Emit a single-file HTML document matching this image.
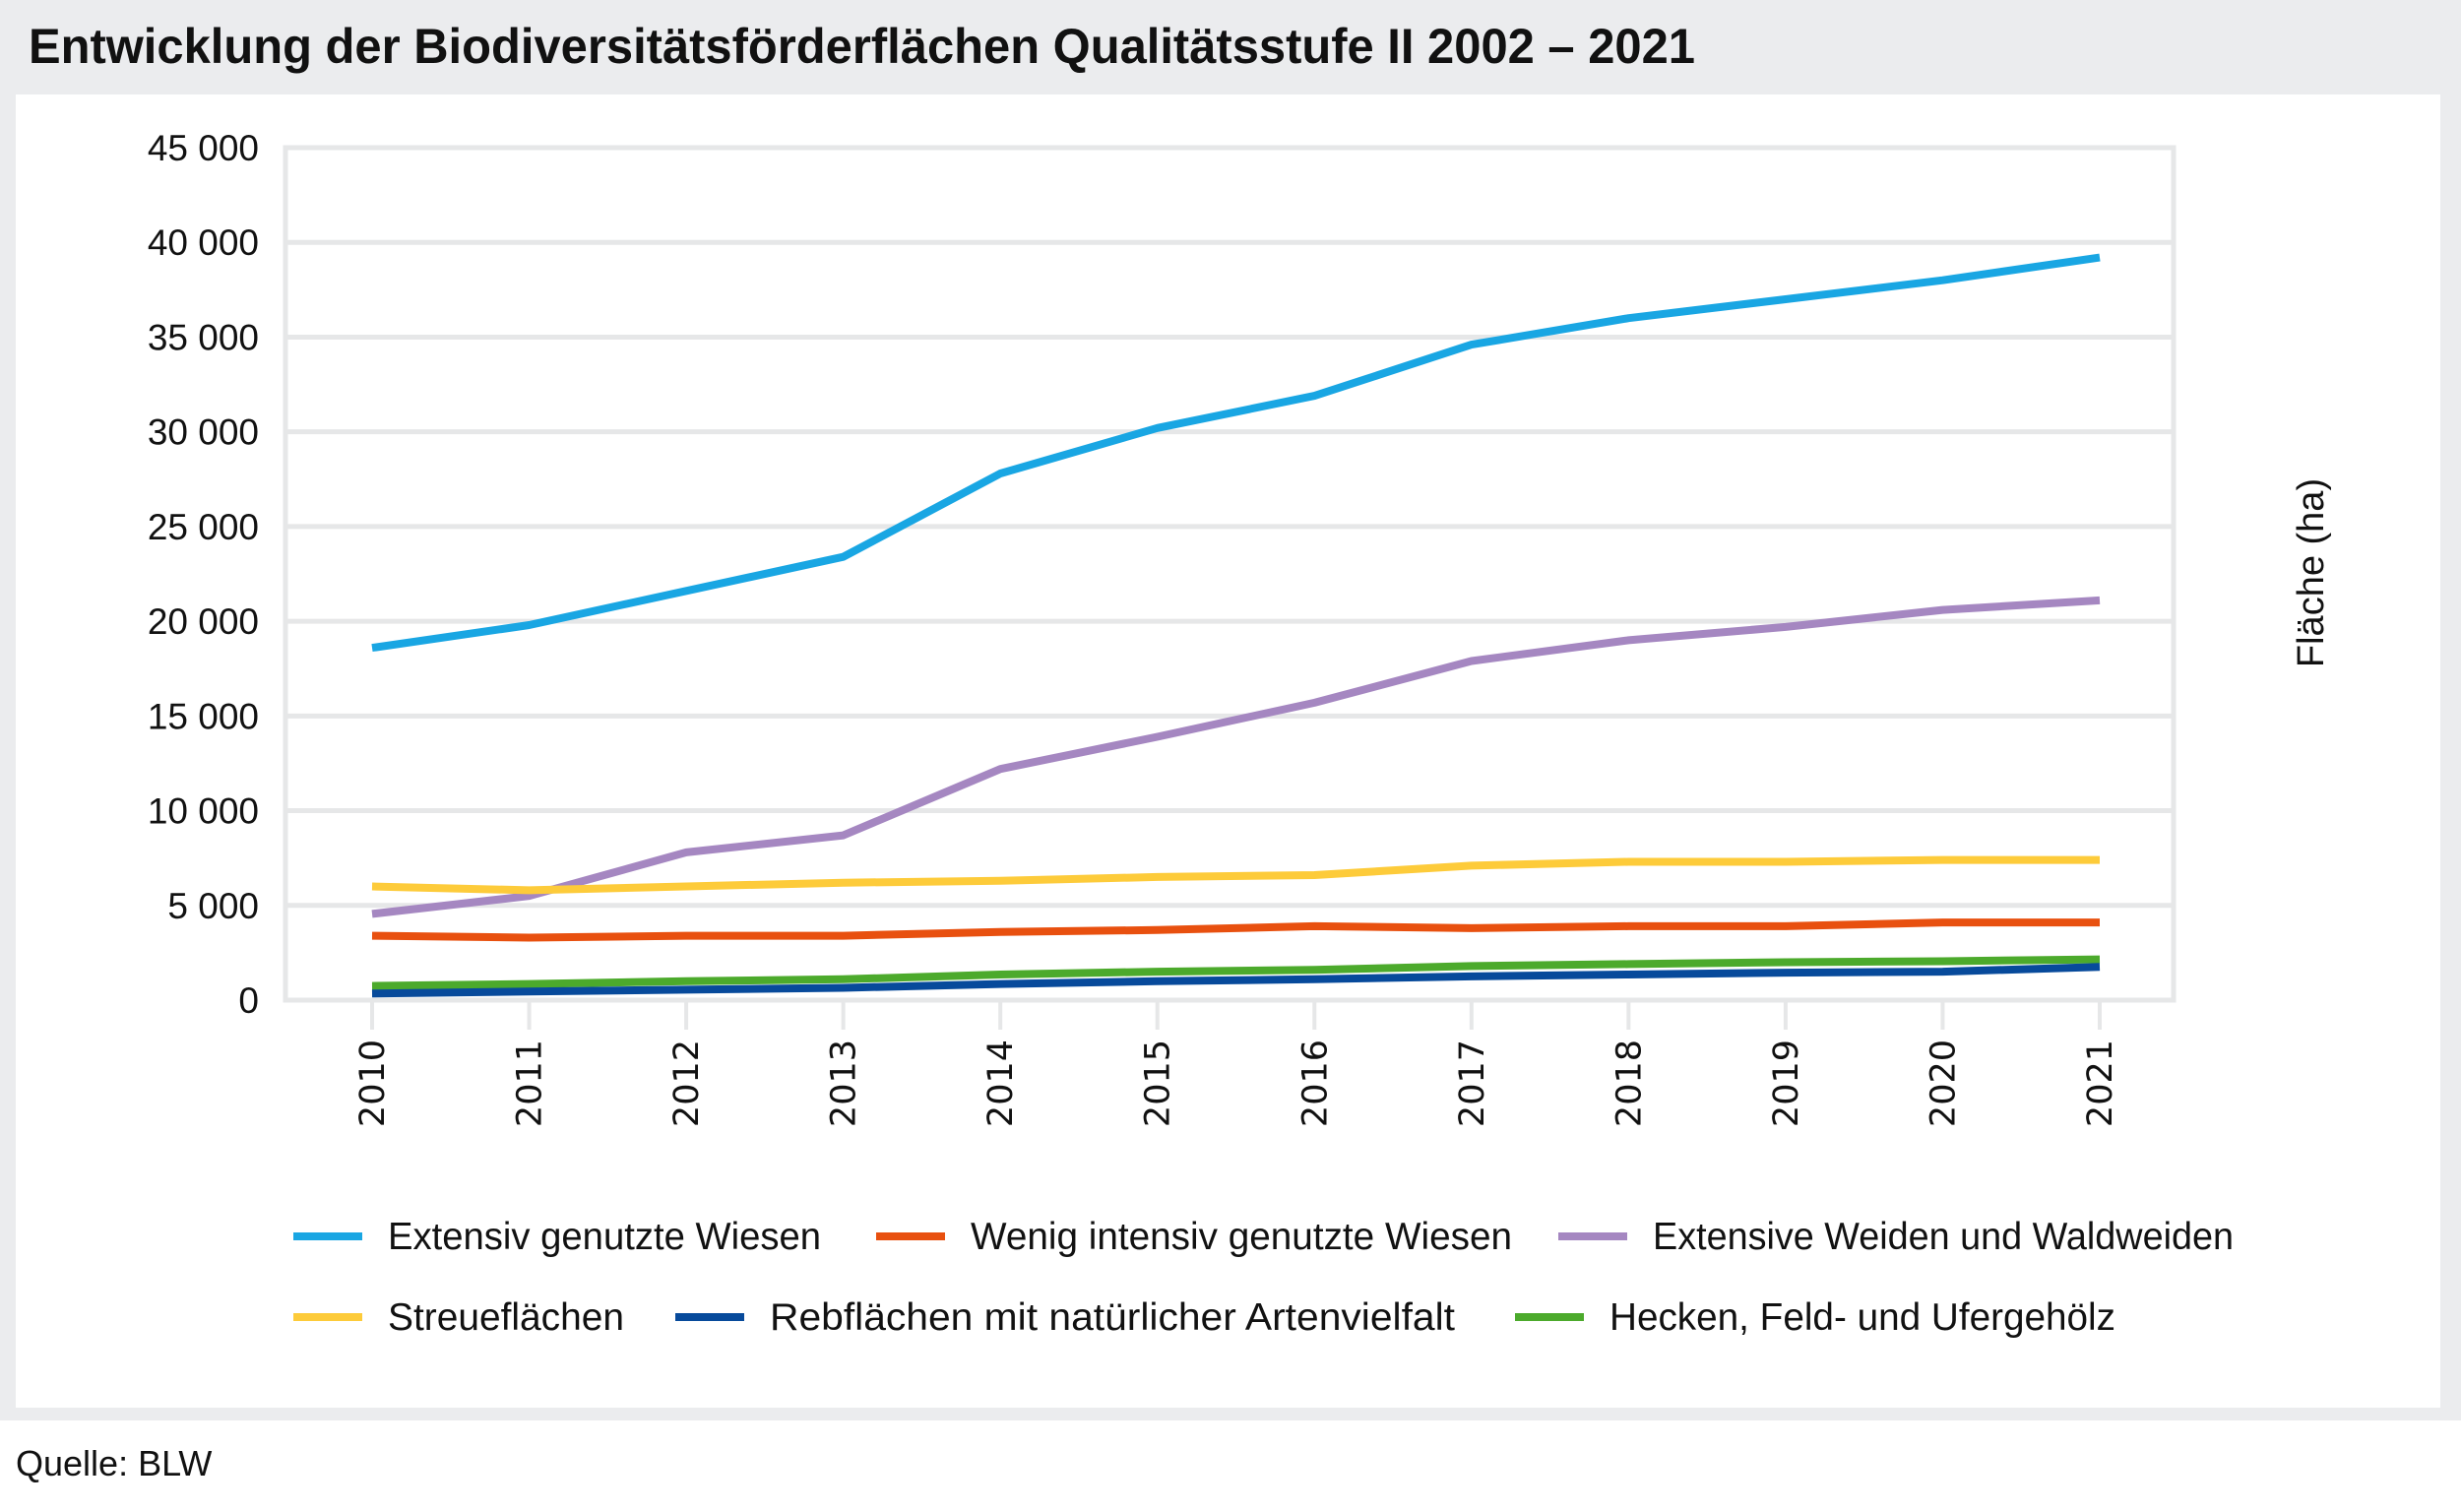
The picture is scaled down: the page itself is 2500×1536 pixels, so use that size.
<!DOCTYPE html>
<html><head><meta charset="utf-8"><style>
html,body{margin:0;padding:0;background:#fff;}
svg{display:block;}
</style></head><body>
<svg id="chart" width="2500" height="1536" viewBox="0 0 2500 1536" xmlns="http://www.w3.org/2000/svg">
<rect x="0" y="0" width="2500" height="1443" fill="#ebecee"/>
<rect x="16" y="96" width="2463" height="1334" fill="#fff"/>
<text x="29" y="64" font-family="'Liberation Sans Narrow','Liberation Sans',sans-serif" font-weight="bold" font-size="50" textLength="1693" lengthAdjust="spacingAndGlyphs" fill="#111">Entwicklung der Biodiversitätsförderflächen Qualitätsstufe II 2002 – 2021</text>
<text x="16" y="1499" font-family="'Liberation Sans Narrow','Liberation Sans',sans-serif" font-size="36" fill="#111">Quelle: BLW</text>
<text transform="translate(2360,582) rotate(-90)" text-anchor="middle" font-family="'Liberation Sans Narrow','Liberation Sans',sans-serif" font-size="38" fill="#111">Fläche (ha)</text>
<g id="grid"></g>
<g id="yticks"></g>
<g id="xticks"></g>
<g id="series"></g>
<g id="legend"></g>
</svg>
<script>
const years = ['2010','2011','2012','2013','2014','2015','2016','2017','2018','2019','2020','2021'];
const yTicks = [0,5000,10000,15000,20000,25000,30000,35000,40000,45000];
const yTickLabels = ['0','5 000','10 000','15 000','20 000','25 000','30 000','35 000','40 000','45 000'];
const seriesNames = ['Extensiv genutzte Wiesen','Wenig intensiv genutzte Wiesen','Extensive Weiden und Waldweiden','Streueflächen','Rebflächen mit natürlicher Artenvielfalt','Hecken, Feld- und Ufergehölz'];
const extensivWiesen = [18600,19800,21600,23400,27800,30200,31900,34600,36000,37000,38000,39200];
const wenigIntensiv = [3400,3300,3400,3400,3600,3700,3900,3800,3900,3900,4100,4100];
const weiden = [4550,5500,7800,8700,12200,13900,15700,17900,19000,19700,20600,21100];
const streue = [6000,5800,6000,6200,6300,6500,6600,7100,7300,7300,7400,7400];
const reb = [350,450,550,650,850,1000,1100,1250,1350,1450,1500,1750];
const hecken = [750,850,1000,1100,1350,1500,1600,1800,1900,2000,2050,2150];
const colors = ['#19a6e3','#e8500f','#a587c1','#fdcb3a','#074a9b','#4caa2c'];

const NS='http://www.w3.org/2000/svg';
const plotL=290, plotR=2208, plotTop=150, plotBot=1016, yMax=45000;
const x0=378, x1=2133;
function xs(i){return x0+(x1-x0)*i/(years.length-1);}
function ys(v){return plotBot-(plotBot-plotTop)*v/yMax;}
function mk(tag,attrs,parent){const e=document.createElementNS(NS,tag);for(const k in attrs)e.setAttribute(k,attrs[k]);parent.appendChild(e);return e;}

const grid=document.getElementById('grid');
yTicks.forEach((v,i)=>{
  const l=mk('line',{x1:plotL,x2:plotR,y1:ys(v),y2:ys(v),stroke:'#e6e7e8','stroke-width':5},grid);
  
  
});
const border=mk('rect',{x:plotL,y:plotTop,width:plotR-plotL,height:plotBot-plotTop,fill:'none',stroke:'#e6e7e8','stroke-width':5},grid);



const yt=document.getElementById('yticks');
yTicks.forEach((v,i)=>{
  const t=mk('text',{x:263,y:ys(v)+13,'text-anchor':'end','font-family':"'Liberation Sans Narrow','Liberation Sans',sans-serif",'font-size':37,fill:'#111'},yt);
  t.textContent=yTickLabels[i];
  
  
});

const xt=document.getElementById('xticks');
years.forEach((y,i)=>{
  const tk=mk('line',{x1:xs(i),x2:xs(i),y1:plotBot,y2:plotBot+30,stroke:'#e6e7e8','stroke-width':4},xt);
  
  
  const t=mk('text',{transform:'translate('+(xs(i)+12)+',1056) rotate(-90)','text-anchor':'end','font-family':"'DejaVu Sans',sans-serif",'font-size':35,fill:'#111'},xt);
  t.textContent=y;
  
  
});

const data=[extensivWiesen,wenigIntensiv,weiden,streue,reb,hecken];
const order=[0,1,2,3,5,4];
const sg=document.getElementById('series');
const lineNames=['line-extensiv-wiesen','line-wenig-intensiv','line-weiden','line-streueflaechen','line-rebflaechen','line-hecken'];
order.forEach(k=>{
  const pts=data[k].map((v,i)=>xs(i).toFixed(1)+','+ys(v).toFixed(1)).join(' ');
  const p=mk('polyline',{points:pts,fill:'none',stroke:colors[k],'stroke-width':8,'stroke-linejoin':'round','stroke-linecap':'butt'},sg);
  
  
});

const lg=document.getElementById('legend');
const legPos=[[298,1256],[890,1256],[1583,1256],[298,1338],[686,1338],[1539,1338]];
const legW=[440,550,590,240,696,514];
seriesNames.forEach((n,k)=>{
  const [lx,ly]=legPos[k];
  const g=mk('g',{},lg);
  
  
  mk('line',{x1:lx,x2:lx+70,y1:ly,y2:ly,stroke:colors[k],'stroke-width':8},g);
  const t=mk('text',{x:lx+96,y:ly+13,'font-family':"'Liberation Sans Narrow','Liberation Sans',sans-serif",'font-size':39,fill:'#111',textLength:legW[k],lengthAdjust:'spacingAndGlyphs'},g);
  t.textContent=n;
});
</script>
</body></html>
